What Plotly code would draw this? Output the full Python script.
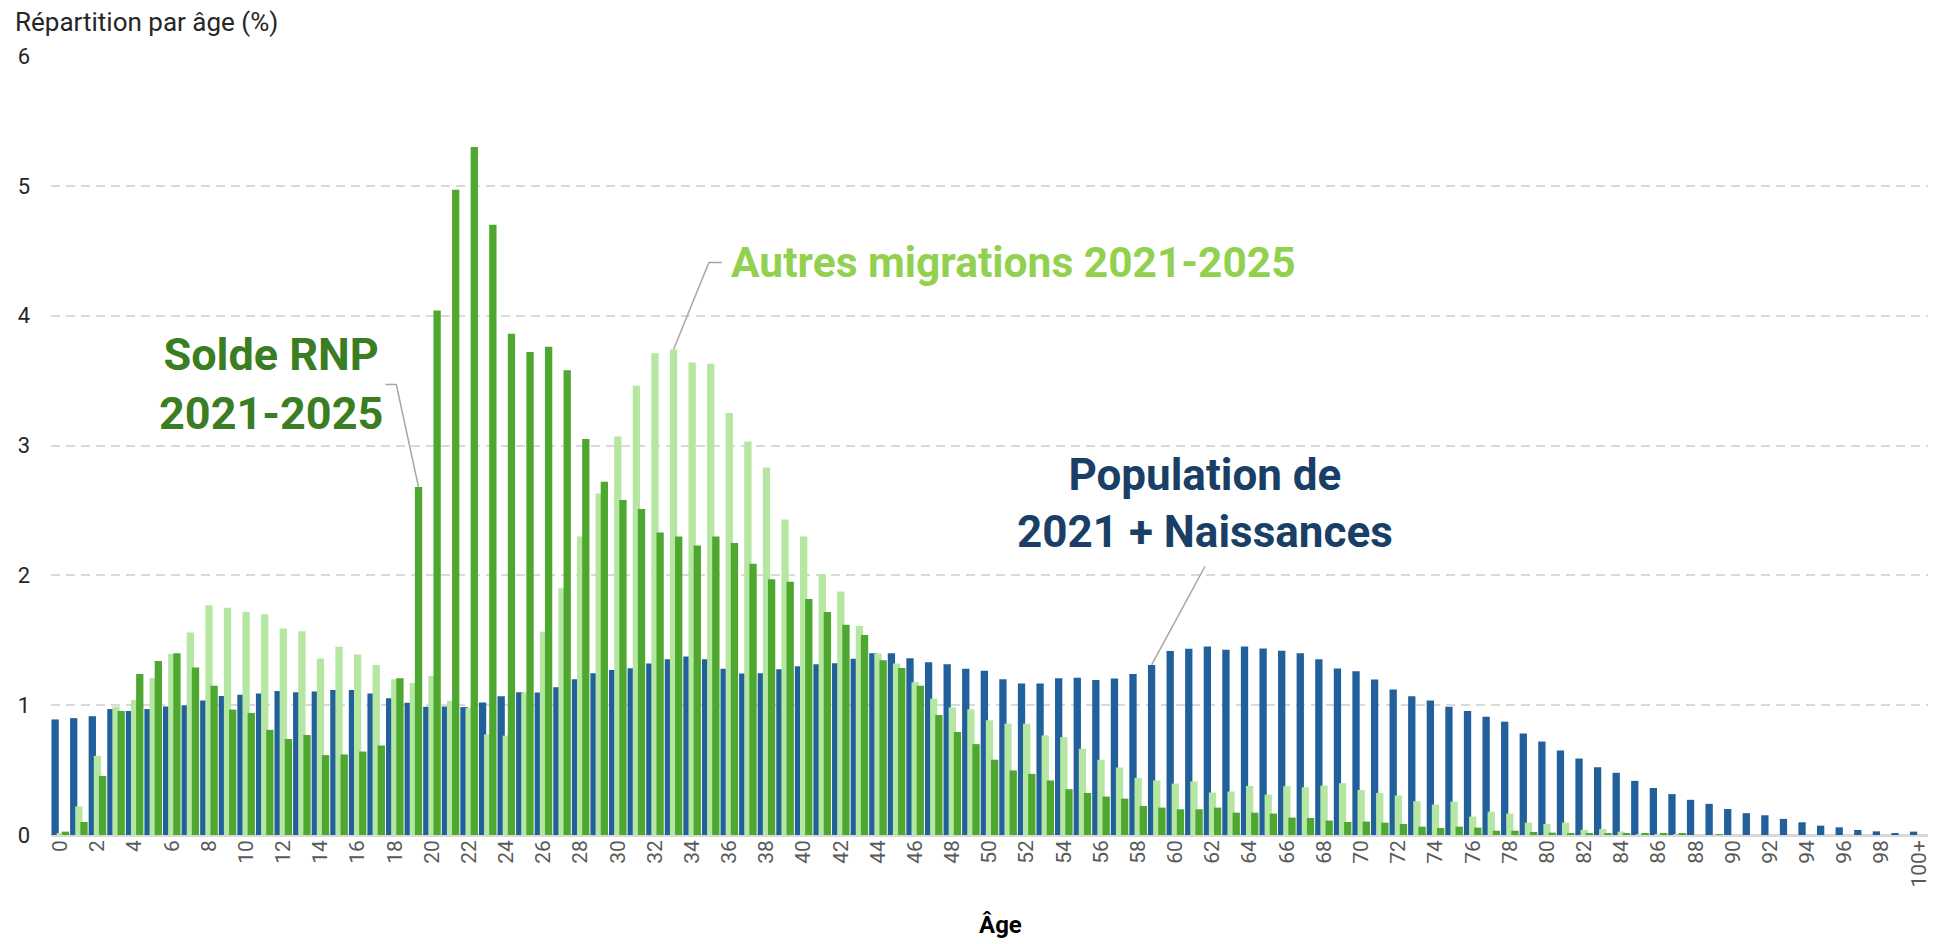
import plotly.graph_objects as go

# Ages 0..99 and the open class 100+
ages = list(range(101))
tick_vals = list(range(0, 101, 2))
tick_text = [str(a) for a in range(0, 100, 2)] + ["100+"]

# Population de 2021 + Naissances (%)
population = [
    0.89, 0.90, 0.915, 0.97, 0.956, 0.97, 0.99, 1.00, 1.036, 1.07,
    1.08, 1.09, 1.11, 1.10, 1.106, 1.116, 1.116, 1.09, 1.054, 1.018,
    0.987, 0.99, 0.985, 1.02, 1.068, 1.10, 1.097, 1.138, 1.20, 1.246,
    1.27, 1.284, 1.32, 1.354, 1.375, 1.354, 1.28, 1.243, 1.246, 1.277,
    1.30, 1.315, 1.323, 1.357, 1.40, 1.40, 1.362, 1.33, 1.315, 1.28,
    1.266, 1.20, 1.166, 1.166, 1.207, 1.212, 1.194, 1.205, 1.24, 1.31,
    1.418, 1.434, 1.452, 1.426, 1.452, 1.436, 1.42, 1.40, 1.354, 1.282,
    1.261, 1.197, 1.12, 1.068, 1.035, 0.988, 0.955, 0.911, 0.873, 0.782,
    0.72, 0.651, 0.589, 0.522, 0.479, 0.417, 0.362, 0.315, 0.271, 0.24,
    0.20, 0.168, 0.152, 0.124, 0.098, 0.072, 0.059, 0.039, 0.028, 0.013,
    0.026,
]

# Autres migrations 2021-2025 (%)
autres = [
    0.01, 0.22, 0.61, 0.99, 1.04, 1.21, 1.395, 1.56, 1.77, 1.75,
    1.72, 1.70, 1.59, 1.57, 1.36, 1.45, 1.39, 1.31, 1.20, 1.17,
    1.225, 1.034, 0.977, 0.775, 0.765, 1.097, 1.565, 1.90, 2.30, 2.63,
    3.07, 3.46, 3.71, 3.74, 3.64, 3.63, 3.25, 3.03, 2.83, 2.43,
    2.30, 2.01, 1.876, 1.61, 1.398, 1.32, 1.176, 1.05, 0.983, 0.968,
    0.883, 0.857, 0.857, 0.767, 0.754, 0.664, 0.579, 0.52, 0.44, 0.42,
    0.396, 0.412, 0.327, 0.335, 0.378, 0.311, 0.376, 0.368, 0.381, 0.399,
    0.347, 0.324, 0.304, 0.26, 0.234, 0.257, 0.142, 0.18, 0.165, 0.095,
    0.085, 0.095, 0.04, 0.046, 0.026, 0.005, 0.005, 0.003, 0.0, 0.0,
    0.0, 0.0, 0.0, 0.0, -0.01, 0.0, -0.018, -0.005, -0.005, 0.0,
    0.0,
]

# Solde RNP 2021-2025 (%)
solde_rnp = [
    0.026, 0.10, 0.455, 0.955, 1.24, 1.34, 1.40, 1.29, 1.15, 0.966,
    0.94, 0.81, 0.74, 0.77, 0.615, 0.62, 0.643, 0.69, 1.207, 2.68,
    4.04, 4.97, 5.30, 4.70, 3.86, 3.72, 3.76, 3.58, 3.05, 2.72,
    2.58, 2.51, 2.33, 2.30, 2.23, 2.30, 2.25, 2.09, 1.97, 1.95,
    1.817, 1.717, 1.62, 1.54, 1.346, 1.287, 1.15, 0.924, 0.793, 0.70,
    0.58, 0.497, 0.471, 0.42, 0.353, 0.324, 0.296, 0.28, 0.224, 0.211,
    0.198, 0.198, 0.211, 0.172, 0.172, 0.165, 0.134, 0.131, 0.111, 0.10,
    0.103, 0.095, 0.085, 0.064, 0.054, 0.064, 0.057, 0.033, 0.033, 0.023,
    0.018, 0.01, 0.015, 0.01, 0.008, 0.015, 0.013, 0.008, 0.0, 0.003,
    0.0, 0.0, 0.0, 0.0, 0.0, 0.0, 0.0, 0.0, 0.0, 0.0,
    0.0,
]

BLUE = "#21609B"
GREEN = "#4EA72E"
LIGHT_GREEN = "#B5E6A2"
BAR_W = 0.393
STEP = 0.277

fig = go.Figure()

# Overlapping clustered bars: blue behind, dark green in front
for name, vals, color, off in [
    ("Population de 2021 + Naissances", population, BLUE, -0.474),
    ("Autres migrations 2021-2025", autres, LIGHT_GREEN, -0.474 + STEP),
    ("Solde RNP 2021-2025", solde_rnp, GREEN, -0.474 + 2 * STEP),
]:
    fig.add_trace(
        go.Bar(
            x=ages,
            y=vals,
            name=name,
            width=BAR_W,
            offset=off,
            marker={"color": color, "line": {"width": 0}},
            hovertemplate="%{x} ans : %{y:.2f} %<extra>" + name + "</extra>",
        )
    )

label_font = "Roboto"
LEADER = {"color": "#A6A6A6", "width": 1.5}

# Leader lines (data coordinates)
fig.add_shape(type="path", xref="x", yref="y",
              path=f"M 17.5,3.47 L 18.08,3.47 L {19 + STEP},{solde_rnp[19]}",
              line=LEADER)
fig.add_shape(type="path", xref="x", yref="y",
              path=f"M 35.6,4.41 L 34.9,4.41 L 33,{autres[33]}",
              line=LEADER)
fig.add_shape(type="path", xref="x", yref="y",
              path=f"M 61.6,2.07 L {59 - STEP},{population[59]}",
              line=LEADER)

fig.add_annotation(x=11.35, y=3.47, xref="x", yref="y",
                   text="<b>Solde RNP<br>2021-2025</b>", showarrow=False,
                   font={"family": label_font, "size": 45, "color": "#3B7D23"})
fig.add_annotation(x=36.0, y=4.41, xref="x", yref="y", xanchor="left",
                   text="<b>Autres migrations 2021-2025</b>", showarrow=False,
                   font={"family": label_font, "size": 42.5, "color": "#92D050"})
fig.add_annotation(x=61.6, y=2.55, xref="x", yref="y",
                   text="<b>Population de<br>2021 + Naissances</b>", showarrow=False,
                   font={"family": label_font, "size": 44, "color": "#1A3F66"})

# Axis titles
fig.add_annotation(x=-0.0205, y=1.044, xref="paper", yref="paper",
                   xanchor="left", yanchor="middle", showarrow=False,
                   text="Répartition par âge (%)",
                   font={"family": label_font, "size": 26, "color": "#262626"})
fig.add_annotation(x=0.506, y=-0.116, xref="paper", yref="paper",
                   xanchor="center", yanchor="middle", showarrow=False,
                   text="<b>Âge</b>",
                   font={"family": label_font, "size": 24, "color": "#000000"})

fig.update_layout(
    width=1941,
    height=944,
    barmode="overlay",
    showlegend=False,
    plot_bgcolor="white",
    paper_bgcolor="white",
    margin={"l": 51, "r": 10, "t": 56, "b": 109},
    font={"family": label_font},
    xaxis={
        "range": [-0.5, 100.5],
        "tickmode": "array",
        "tickvals": tick_vals,
        "ticktext": tick_text,
        "tickangle": -90,
        "tickfont": {"size": 21, "color": "#595959"},
        "showgrid": False,
        "zeroline": False,
        "showline": False,
        "ticks": "",
    },
    yaxis={
        "range": [0, 6],
        "tickvals": [0, 1, 2, 3, 4, 5, 6],
        "tickfont": {"size": 22, "color": "#262626"},
        "showgrid": True,
        "gridcolor": "#D9D9D9",
        "gridwidth": 1.5,
        "griddash": "9px,6px",
        "zeroline": True,
        "zerolinecolor": "#D9D9D9",
        "zerolinewidth": 2.5,
        "ticklabelstandoff": 20,
    },
)

# drop the browser's default page margin so the figure sits at the corner
fig.write_html(
    "out.html",
    config={"displayModeBar": False},
    post_script="document.body.style.margin='0';",
)
